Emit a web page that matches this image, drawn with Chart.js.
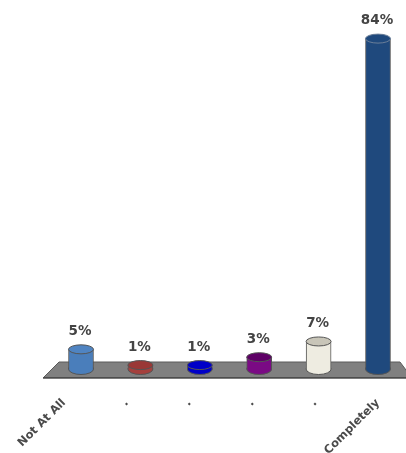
<!DOCTYPE html>
<html>
<head>
<meta charset="utf-8">
<script src="https://cdn.jsdelivr.net/npm/chart.js@4"></script>
<style>
html, body { margin: 0; background: #fff; }
canvas { display: block; filter: blur(0.6px); }
</style>
</head>
<body>
<canvas id="chart" width="406" height="453"></canvas>
<script>
const categories = ['Not At All', '.', '.', '.', '.', 'Completely'];
const percents = [5, 1, 1, 3, 7, 84];
const barColors = ['#4a7ebb', '#a5403d', '#0000c8', '#7a0a84', '#eeece1', '#1f497d'];
const capColors = ['#4f84c2', '#9a3836', '#0000c8', '#5e0066', '#c8c5b8', '#1f497d'];

const capH = 4.5;      // half height of the cylinder ellipses
const labelFont = 'bold 11.5px "DejaVu Sans"';

function ellipse(ctx, x, y, rx, ry, fill, stroke) {
    ctx.beginPath();
    ctx.ellipse(x, y, rx, ry, 0, 0, Math.PI * 2);
    ctx.fillStyle = fill;
    ctx.fill();
    ctx.lineWidth = 1;
    ctx.strokeStyle = stroke;
    ctx.stroke();
}

const cylinder3d = {
    id: 'cylinder3d',
    beforeDatasetsDraw(chart) {
        const ctx = chart.ctx;
        const base = chart.scales.y.getPixelForValue(0);

        // grey floor
        ctx.save();
        ctx.beginPath();
        ctx.moveTo(59, base - 7);
        ctx.lineTo(400, base - 7);
        ctx.lineTo(412, base + 9);
        ctx.lineTo(43, base + 9);
        ctx.closePath();
        ctx.fillStyle = '#808080';
        ctx.fill();
        ctx.lineWidth = 1;
        ctx.strokeStyle = '#5a5a5a';
        ctx.stroke();
        ctx.fillStyle = '#4d4d4d';
        ctx.fillRect(43, base + 8, 363, 1.5);
        ctx.restore();

        // bottom of each cylinder
        chart.getDatasetMeta(0).data.forEach((bar, i) => {
            ellipse(ctx, bar.x, bar.base, bar.width / 2, capH + 1, barColors[i], '#555');
        });
    },
    afterDatasetsDraw(chart) {
        const ctx = chart.ctx;
        ctx.save();
        chart.getDatasetMeta(0).data.forEach((bar, i) => {
            ellipse(ctx, bar.x, bar.y, bar.width / 2, capH, capColors[i], i === 5 ? '#6b7f99' : '#555');

            // value label
            ctx.font = 'bold 13.5px "DejaVu Sans"';
            ctx.fillStyle = '#444';
            ctx.textAlign = 'center';
            ctx.textBaseline = 'middle';
            ctx.fillText(percents[i] + '%', bar.x - 1, bar.y - 18);
        });

        // slanted axis labels, the floor's depth pulls them left of the bars
        const xs = chart.scales.x;
        categories.forEach((label, i) => {
            const x = xs.getPixelForValue(i) - (5 - i) * 3.4;
            ctx.save();
            ctx.translate(x, 401);
            ctx.rotate(-Math.PI / 4);
            ctx.font = labelFont;
            ctx.fillStyle = '#4a4a4a';
            ctx.textAlign = 'right';
            ctx.textBaseline = 'middle';
            ctx.fillText(label, 0, 0);
            ctx.restore();
        });
        ctx.restore();
    }
};

new Chart(document.getElementById('chart'), {
    type: 'bar',
    data: {
        labels: categories,
        datasets: [{
            data: percents,
            backgroundColor: barColors,
            borderColor: '#555',
            borderWidth: { left: 1, right: 1, top: 0, bottom: 0 },
            barThickness: 25,
            clip: false
        }]
    },
    plugins: [cylinder3d],
    options: {
        responsive: false,
        animation: false,
        layout: { padding: { left: 81, right: 28, top: 15, bottom: 84 } },
        plugins: { legend: { display: false }, tooltip: { enabled: false } },
        scales: {
            x: { display: false, offset: false },
            y: { display: false, min: 0, max: 90 }
        }
    }
});
</script>
</body>
</html>
